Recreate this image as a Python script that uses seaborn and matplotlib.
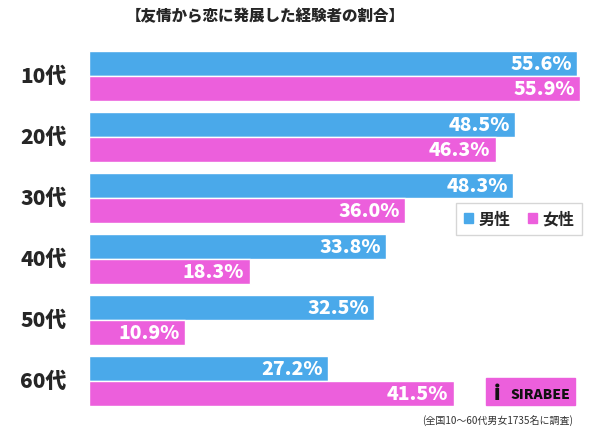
import pandas as pd
import numpy as np
import matplotlib.pyplot as plt
import seaborn as sns
from matplotlib.patches import Rectangle

# 友情から恋に発展した経験者の割合
ages = ["10代", "20代", "30代", "40代", "50代", "60代"]
male = [55.6, 48.5, 48.3, 33.8, 32.5, 27.2]
female = [55.9, 46.3, 36.0, 18.3, 10.9, 41.5]
groups = ["男性", "女性"]

df = pd.DataFrame({
    "age": ages * 2,
    "pct": male + female,
    "sex": [groups[0]] * len(ages) + [groups[1]] * len(ages),
})

sns.set_style("white")
plt.rcParams['font.family'] = ['Noto Sans CJK JP', 'DejaVu Sans']

blue = "#4aa9ea"
pink = "#ec5fdc"

fig = plt.figure(figsize=(6, 4.31), dpi=100)
ax = fig.add_axes([0.148, 0.056, 0.835, 0.823])

sns.barplot(data=df, y="age", x="pct", hue="sex", orient="h",
            palette=[blue, pink], width=0.82, saturation=1,
            ax=ax, legend=False)

ax.set_xlim(0, 57)
ax.set_ylim(5.41, -0.41)
for c in ax.containers:
    for bar in c:
        w = bar.get_width()
        ax.text(w - 0.6, bar.get_y() + bar.get_height() / 2, f"{w:.1f}%",
                ha="right", va="center", color="white", fontsize=14,
                fontweight=900)

ax.set_xlabel("")
ax.set_ylabel("")
ax.set_xticks([])
ax.set_yticks(range(len(ages)))
ax.set_yticklabels([])
for i, a in enumerate(ages):
    fig.text(0.072, ax.transData.transform((0, i))[1] / fig.bbox.height,
             a, ha="center", va="center", fontsize=15, fontweight=900)
ax.tick_params(left=False)
sns.despine(ax=ax, left=True, bottom=True)

fig.text(0.442, 0.962, "【友情から恋に発展した経験者の割合】", ha="center", va="center",
         fontsize=11.2, fontweight=900)

# legend
handles = [Rectangle((0, 0), 1, 1, color=blue), Rectangle((0, 0), 1, 1, color=pink)]
fig.legend(handles, groups, loc="center", bbox_to_anchor=(0.865, 0.49),
           ncol=2, frameon=True, fancybox=False, edgecolor="#cccccc",
           handlelength=0.55, handleheight=0.55, handletextpad=0.35,
           columnspacing=1.1, borderpad=0.5,
           prop={"weight": "bold", "size": 11.5})

# logo
fig.patches.append(Rectangle((0.81, 0.058), 0.148, 0.062, transform=fig.transFigure,
                             color=pink, zorder=5))
fig.text(0.829, 0.085, "i", ha="center", va="center", fontsize=15,
         fontweight=900, color="#111111", zorder=6)
fig.text(0.9, 0.083, "SIRABEE", ha="center", va="center", fontsize=10,
         fontweight=900, style="italic", color="#111111", zorder=6)

fig.text(0.955, 0.024, "(全国10〜60代男女1735名に調査)", ha="right", va="center",
         fontsize=7.2, color="#333333")

fig.savefig("out.png", dpi=100)
